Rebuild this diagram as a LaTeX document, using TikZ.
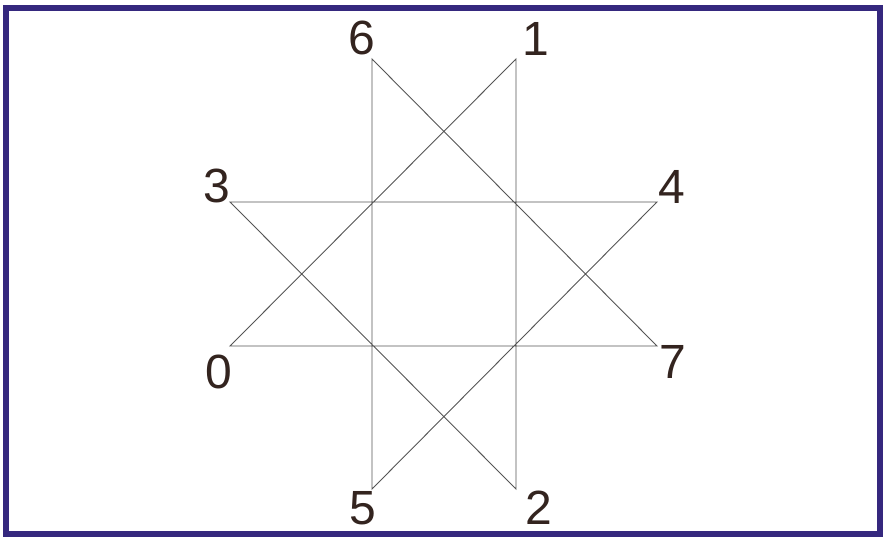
\documentclass[tikz,border=0pt]{standalone}
\usepackage{fontspec}
\setmainfont{Liberation Sans}
\definecolor{frame}{HTML}{35287E}
\definecolor{ink}{HTML}{33241F}
\definecolor{edge}{HTML}{555555}
\begin{document}
\begin{tikzpicture}[x=1pt,y=-1pt,
  lab/.style={text=ink,font=\fontsize{48}{48}\selectfont,inner sep=0pt,anchor=center},
  star/.style={draw=edge,line width=0.9pt}]
\useasboundingbox (0,0) rectangle (884,540);
\fill[white] (0,0) rectangle (884,540);
\draw[frame,line width=6.5pt] (6,8) rectangle (880,534);
% star points
\coordinate (p0) at (230,346);
\coordinate (p1) at (516,59);
\coordinate (p2) at (516,489);
\coordinate (p3) at (230,202);
\coordinate (p4) at (657,202);
\coordinate (p5) at (372,489);
\coordinate (p6) at (372,59);
\coordinate (p7) at (657,346);
\draw[star] (p0) -- (p1) -- (p2) -- (p3) -- (p4) -- (p5) -- (p6) -- (p7) -- cycle;
% labels
\node[lab] (l6) at (362,38) {6};
\node[lab] (l1) at (536,39) {1};
\node[lab] (l3) at (217,186) {3};
\node[lab] (l4) at (672,187) {4};
\node[lab] (l0) at (219,372) {0};
\node[lab] (l7) at (673,362) {7};
\node[lab] (l5) at (363,508) {5};
\node[lab] (l2) at (539,508) {2};
\end{tikzpicture}
\end{document}
